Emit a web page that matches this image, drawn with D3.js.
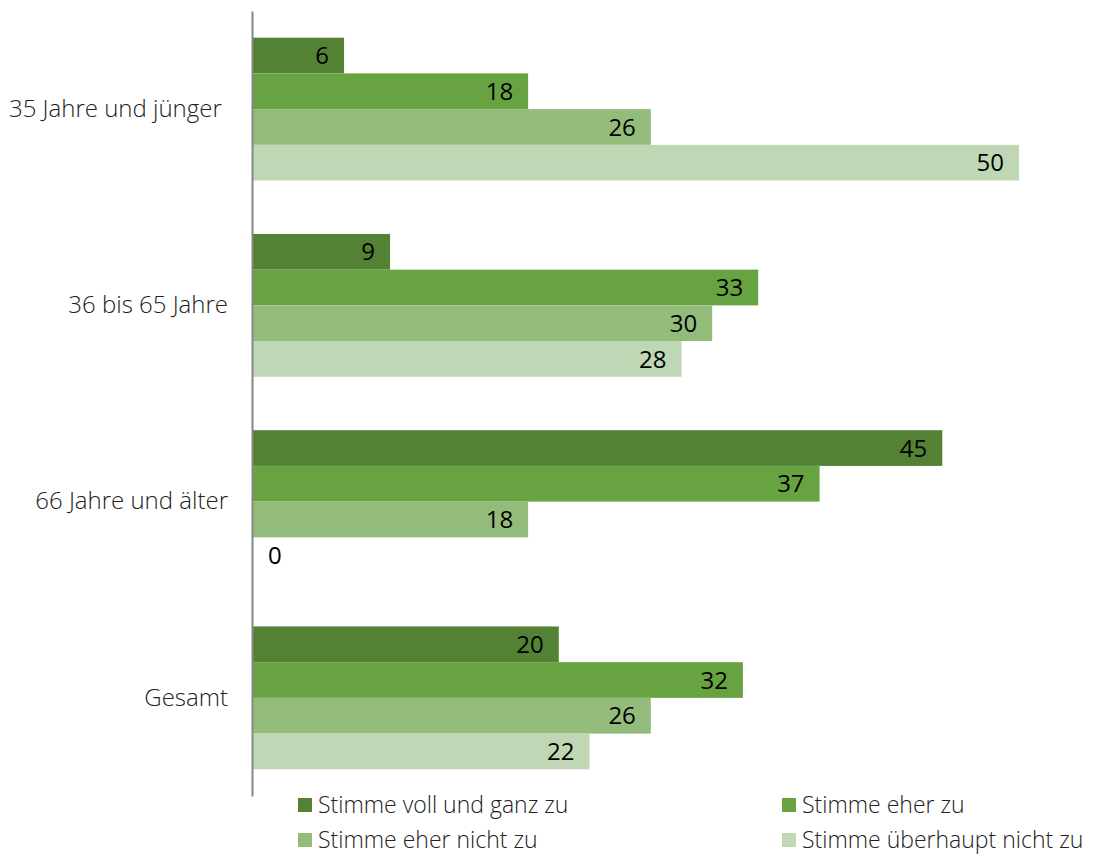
<!DOCTYPE html>
<html lang="de">
<head>
<meta charset="utf-8">
<script src="https://cdn.jsdelivr.net/npm/d3@7"></script>
<style>
  html, body { margin: 0; padding: 0; background: #ffffff; }
  svg { display: block; }
</style>
</head>
<body>
<svg id="chart" width="1095" height="856"></svg>
<script>
// Age groups (rows) and answer categories (bars within each row)
const categories = ["35 Jahre und jünger ", "36 bis 65 Jahre", "66 Jahre und älter", "Gesamt"];
const seriesNames = ["Stimme voll und ganz zu", "Stimme eher zu", "Stimme eher nicht zu", "Stimme überhaupt nicht zu"];
const seriesColors = ["#548235", "#68a342", "#93bc7b", "#bfd7b4"];

// Percent values per answer, in the order of the age groups
const vollUndGanz   = [6, 9, 45, 20];
const eherZu        = [18, 33, 37, 32];
const eherNicht     = [26, 30, 18, 26];
const ueberhauptNicht = [50, 28, 0, 22];
const seriesValues = [vollUndGanz, eherZu, eherNicht, ueberhauptNicht];

const svg = d3.select("#chart");
const fontMain = "'Open Sans', 'Noto Sans', sans-serif";

const plotTop = 11, plotBottom = 796;

const x = d3.scaleLinear().domain([0, 50]).range([252, 1019]);

const y = d3.scaleBand()
  .domain(categories)
  .range([plotTop, plotBottom])
  .paddingInner(0.272)
  .paddingOuter(0.136);

const ySeries = d3.scaleBand()
  .domain(d3.range(seriesNames.length))
  .range([0, y.bandwidth()])
  .padding(0);

// Bars
const groups = svg.append("g").selectAll("g")
  .data(categories)
  .join("g")
  .attr("transform", d => `translate(0,${y(d)})`);

groups.each(function (cat, ci) {
  const g = d3.select(this);
  const rows = seriesValues.map((vals, si) => ({ si, v: vals[ci] }));

  g.selectAll("rect")
    .data(rows)
    .join("rect")
    .attr("x", x(0))
    .attr("y", d => ySeries(d.si))
    .attr("width", d => x(d.v) - x(0))
    .attr("height", ySeries.bandwidth())
    .attr("fill", d => seriesColors[d.si]);

  g.selectAll("text")
    .data(rows)
    .join("text")
    .attr("x", d => d.v > 0 ? x(d.v) - 15 : x(0) + 16)
    .attr("y", d => ySeries(d.si) + ySeries.bandwidth() / 2)
    .attr("dy", "0.36em")
    .attr("text-anchor", d => d.v > 0 ? "end" : "start")
    .attr("font-family", fontMain)
    .attr("font-size", 24)
    .attr("fill", "#000000")
    .text(d => d.v);
});

// Vertical category axis
const yAxis = d3.axisLeft(y).tickSize(0).tickPadding(24);
const axisG = svg.append("g")
  .attr("transform", `translate(${x(0)},0)`)
  .call(yAxis);
axisG.select(".domain")
  .attr("stroke", "#868686")
  .attr("stroke-width", 2);
axisG.selectAll(".tick text")
  .attr("font-family", fontMain)
  .attr("font-weight", 300)
  .attr("font-size", 24)
  .attr("fill", "#222222")
  .style("white-space", "pre");

// Legend, two columns
const legendCols = [298, 782];
const legendRows = [805, 840];
const legend = svg.append("g").selectAll("g")
  .data(seriesNames)
  .join("g")
  .attr("transform", (d, i) => `translate(${legendCols[i % 2]},${legendRows[Math.floor(i / 2)]})`);

legend.append("rect")
  .attr("x", 0)
  .attr("y", -7)
  .attr("width", 14)
  .attr("height", 14)
  .attr("fill", (d, i) => seriesColors[i]);

legend.append("text")
  .attr("x", 20)
  .attr("y", 0)
  .attr("dy", "0.36em")
  .attr("font-family", fontMain)
  .attr("font-weight", 300)
  .attr("font-size", 23)
  .attr("fill", "#222222")
  .text(d => d);
</script>
</body>
</html>
